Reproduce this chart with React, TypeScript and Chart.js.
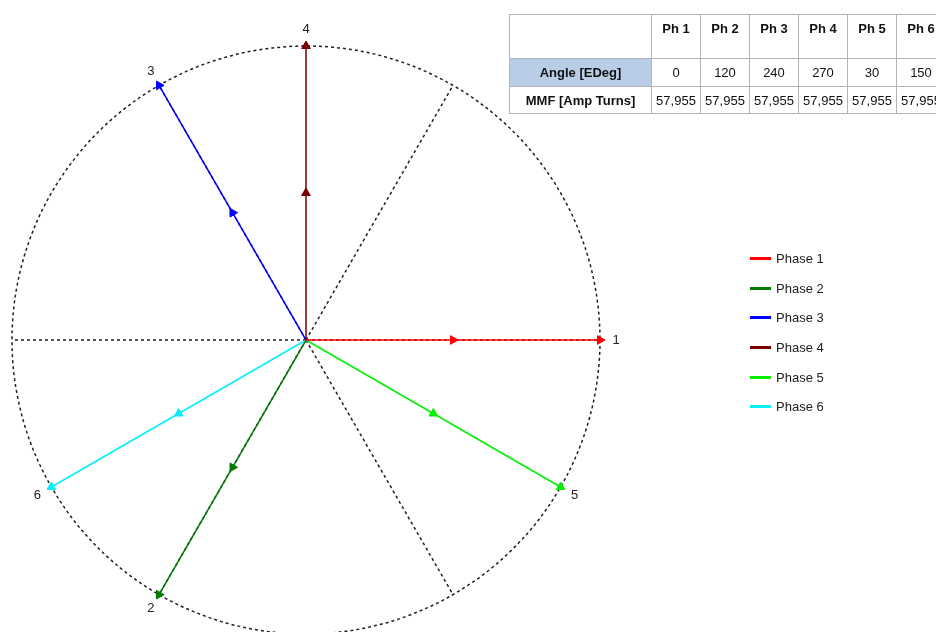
import React, { useEffect, useRef } from "react";
import { Chart, registerables } from "chart.js";

Chart.register(...registerables);

// ---- data ----
const phaseNames = ["Phase 1", "Phase 2", "Phase 3", "Phase 4", "Phase 5", "Phase 6"];
const phaseNumbers = ["1", "2", "3", "4", "5", "6"];
const headerLabels = ["Ph 1", "Ph 2", "Ph 3", "Ph 4", "Ph 5", "Ph 6"];
const anglesEDeg = [0, 120, 240, 270, 30, 150];
const mmfAmpTurns = [57955, 57955, 57955, 57955, 57955, 57955];
const phaseColors = ["#ff0000", "#007a00", "#0000ff", "#7a0000", "#00f000", "#00f0ff"];
const spokeAngles = [0, 60, 120, 180, 240, 300];
const rowLabels = ["Angle [EDeg]", "MMF [Amp Turns]"];

const R = Math.max(...mmfAmpTurns);
const PX_R = 294; // pixel radius of the outer circle
const W = 936;
const H = 632;
const CX = 306;
const CY = 340;

const toRad = (d: number) => (d * Math.PI) / 180;
// angles are measured clockwise in the diagram
const vx = (mag: number, ang: number) => mag * Math.cos(-toRad(ang));
const vy = (mag: number, ang: number) => mag * Math.sin(-toRad(ang));

const phasorPlugin = {
  id: "phasorDecor",
  beforeDatasetsDraw(chart: any) {
    const { ctx, scales } = chart;
    const x = scales.x;
    const y = scales.y;
    const cx = x.getPixelForValue(0);
    const cy = y.getPixelForValue(0);
    const r = x.getPixelForValue(R) - cx;
    ctx.save();
    ctx.setLineDash([3, 3]);
    ctx.strokeStyle = "#202020";
    ctx.lineWidth = 1.5;
    ctx.beginPath();
    ctx.arc(cx, cy, r, 0, Math.PI * 2);
    ctx.stroke();
    ctx.beginPath();
    for (const a of spokeAngles) {
      ctx.moveTo(cx, cy);
      ctx.lineTo(x.getPixelForValue(vx(R, a)), y.getPixelForValue(vy(R, a)));
    }
    ctx.stroke();
    ctx.restore();
  },
  afterDatasetsDraw(chart: any) {
    const { ctx, scales } = chart;
    const x = scales.x;
    const y = scales.y;
    ctx.save();
    ctx.font = "13px 'Liberation Sans', Arial, sans-serif";
    ctx.fillStyle = "#222";
    ctx.textAlign = "center";
    ctx.textBaseline = "middle";
    anglesEDeg.forEach((a, i) => {
      const m = mmfAmpTurns[i] * 1.055;
      ctx.fillText(phaseNumbers[i], x.getPixelForValue(vx(m, a)), y.getPixelForValue(vy(m, a)));
    });
    ctx.restore();
  },
};

function App() {
  const canvasRef = useRef<HTMLCanvasElement | null>(null);

  useEffect(() => {
    const canvas = canvasRef.current;
    if (!canvas) return;
    const unit = R / PX_R;
    const datasets = anglesEDeg.map((a, i) => {
      const m = mmfAmpTurns[i];
      return {
        label: phaseNames[i],
        data: [
          { x: 0, y: 0 },
          { x: vx(m / 2, a), y: vy(m / 2, a) },
          { x: vx(m, a), y: vy(m, a) },
        ],
        showLine: true,
        borderColor: phaseColors[i],
        borderWidth: 1.5,
        pointStyle: "triangle",
        pointRadius: [0, 5, 5],
        pointRotation: 90 + a,
        pointBackgroundColor: phaseColors[i],
        pointBorderColor: phaseColors[i],
        pointBorderWidth: 1,
      };
    });
    const chart = new Chart(canvas, {
      type: "scatter",
      data: { datasets } as any,
      options: {
        animation: false,
        responsive: false,
        devicePixelRatio: 1,
        events: [],
        layout: { padding: 0, autoPadding: false },
        scales: {
          x: { type: "linear", display: false, min: -CX * unit, max: (W - CX) * unit },
          y: { type: "linear", display: false, min: -(H - CY) * unit, max: CY * unit },
        },
        plugins: { legend: { display: false }, tooltip: { enabled: false } },
      } as any,
      plugins: [phasorPlugin],
    });
    return () => chart.destroy();
  }, []);

  const cellBorder = "1px solid #b4b4b4";
  const colW = [142, 49, 49, 49, 49, 49, 49];
  const font = "'Liberation Sans', Arial, sans-serif";

  return (
    <div
      style={{
        position: "fixed",
        left: 0,
        top: 0,
        width: W,
        height: H,
        background: "#ffffff",
        overflow: "hidden",
      }}
    >
      <canvas ref={canvasRef} width={W} height={H} style={{ position: "absolute", left: 0, top: 0 }} />
      <table
        style={{
          position: "absolute",
          left: 509,
          top: 14,
          borderCollapse: "collapse",
          tableLayout: "fixed",
          width: colW.reduce((s, v) => s + v, 0),
          fontFamily: font,
          fontSize: 13,
          color: "#111",
          border: "1px solid #9a9a9a",
        }}
      >
        <colgroup>
          {colW.map((w, i) => (
            <col key={i} style={{ width: w }} />
          ))}
        </colgroup>
        <tbody>
          <tr style={{ height: 44 }}>
            <td style={{ border: cellBorder, background: "#fff" }} />
            {headerLabels.map((h) => (
              <td
                key={h}
                style={{
                  border: cellBorder,
                  fontWeight: "bold",
                  textAlign: "center",
                  verticalAlign: "top",
                  whiteSpace: "nowrap",
                  overflow: "hidden",
                  padding: "6px 0 0 0",
                }}
              >
                {h}
              </td>
            ))}
          </tr>
          <tr style={{ height: 28 }}>
            <td
              style={{
                border: cellBorder,
                background: "#b9cde6",
                fontWeight: "bold",
                textAlign: "center",
                padding: 0,
                whiteSpace: "nowrap",
              }}
            >
              {rowLabels[0]}
            </td>
            {anglesEDeg.map((a, i) => (
              <td key={i} style={{ border: cellBorder, textAlign: "center", padding: 0, whiteSpace: "nowrap", overflow: "hidden" }}>
                {a}
              </td>
            ))}
          </tr>
          <tr style={{ height: 27 }}>
            <td
              style={{
                border: cellBorder,
                fontWeight: "bold",
                textAlign: "center",
                padding: 0,
                whiteSpace: "nowrap",
              }}
            >
              {rowLabels[1]}
            </td>
            {mmfAmpTurns.map((m, i) => (
              <td key={i} style={{ border: cellBorder, textAlign: "center", padding: 0, whiteSpace: "nowrap", overflow: "hidden" }}>
                {m.toLocaleString("en-US")}
              </td>
            ))}
          </tr>
        </tbody>
      </table>
      <div style={{ position: "absolute", left: 750, top: 244, fontFamily: font, fontSize: 13, color: "#222" }}>
        {phaseNames.map((n, i) => (
          <div key={n} style={{ height: 29.6, display: "flex", alignItems: "center", position: "relative" }}>
            <span style={{ display: "inline-block", width: 21, height: 3, background: phaseColors[i], marginRight: 5 }} />
            <span>{n}</span>
          </div>
        ))}
      </div>
    </div>
  );
}

export default App;
